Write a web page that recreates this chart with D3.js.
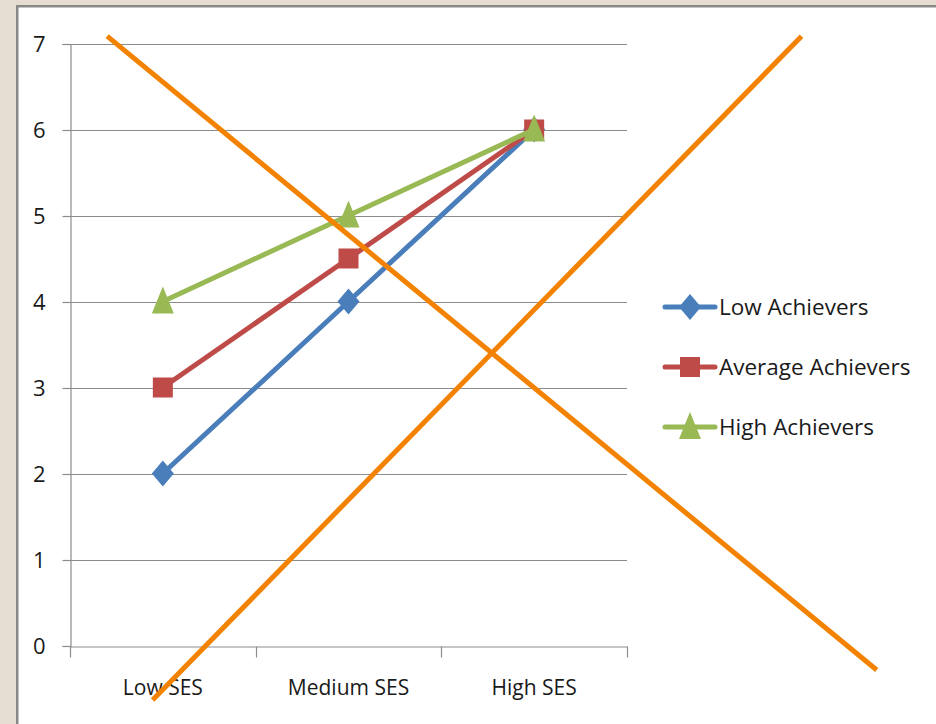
<!DOCTYPE html>
<html>
<head>
<meta charset="utf-8">
<script src="https://cdn.jsdelivr.net/npm/d3@7"></script>
<style>
  html, body { margin: 0; padding: 0; background: #e5ddd2; }
  svg { display: block; }
  text { font-family: "Open Sans", "DejaVu Sans Condensed", sans-serif; fill: #1a1a1a; }
</style>
</head>
<body>
<svg id="chart" width="936" height="724"></svg>
<script>
// Categories along the x axis
const categories = ["Low SES", "Medium SES", "High SES"];

// Series values, one per category
const lowAchievers     = [2, 4, 6];
const averageAchievers = [3, 4.5, 6];
const highAchievers    = [4, 5, 6];

const seriesNames = ["Low Achievers", "Average Achievers", "High Achievers"];
const yTicks = [0, 1, 2, 3, 4, 5, 6, 7];

// Crossing strokes over the chart, expressed as [categoryIndex, value] endpoints
const crossA = [[-0.30, 7.085], [3.845, -0.285]];
const crossB = [[-0.055, -0.635], [3.44, 7.085]];

const series = [
  { name: seriesNames[0], values: lowAchievers,     color: "#4a7ebb", symbol: "diamond" },
  { name: seriesNames[1], values: averageAchievers, color: "#be4b48", symbol: "square" },
  { name: seriesNames[2], values: highAchievers,    color: "#98b954", symbol: "triangle" }
];

const svg = d3.select("#chart");

// White chart area with grey frame
svg.append("rect").attr("x", 16).attr("y", 5).attr("width", 940).attr("height", 740)
  .attr("fill", "#888");
svg.append("rect").attr("x", 18.5).attr("y", 7.5).attr("width", 940).attr("height", 740)
  .attr("fill", "#ffffff");

const plot = { left: 70, right: 627, top: 43.5, bottom: 645.5 };

const x = d3.scaleBand().domain(categories).range([plot.left, plot.right]).paddingInner(0).paddingOuter(0);
const xIdx = d3.scaleLinear().domain([-0.5, categories.length - 0.5]).range([plot.left, plot.right]);
const y = d3.scaleLinear().domain([0, 7]).range([plot.bottom, plot.top]);

// Horizontal gridlines
svg.append("g").selectAll("line").data(yTicks.filter(d => d > 0)).join("line")
  .attr("x1", plot.left).attr("x2", plot.right)
  .attr("y1", d => Math.round(y(d)) + 0.5).attr("y2", d => Math.round(y(d)) + 0.5)
  .attr("stroke", "#8c8c8c").attr("stroke-width", 1.2);

// Y axis
const yAxis = d3.axisLeft(y).tickValues(yTicks).tickFormat(d3.format("d")).tickSize(8).tickPadding(17);
const gy = svg.append("g").attr("transform", `translate(${plot.left + 0.5},0.5)`).call(yAxis);
gy.select(".domain").attr("stroke", "#8c8c8c").attr("stroke-width", 1.2);
gy.selectAll(".tick line").attr("stroke", "#8c8c8c").attr("stroke-width", 1.2);
gy.selectAll(".tick text").attr("font-size", 22).attr("fill", "#1a1a1a")
  .attr("font-family", "'Open Sans', sans-serif");

// X axis
const xAxis = d3.axisBottom(x).tickSize(0).tickPadding(34);
const gx = svg.append("g").attr("transform", `translate(0,${Math.round(plot.bottom) + 0.5})`).call(xAxis);
gx.select(".domain").attr("stroke", "#8c8c8c").attr("stroke-width", 1.2);
gx.selectAll(".tick text").attr("font-size", 21).attr("fill", "#1a1a1a")
  .attr("font-family", "'Open Sans', sans-serif");
// Boundary ticks between categories
const bounds = d3.range(categories.length + 1);
gx.append("g").selectAll("line").data(bounds).join("line")
  .attr("x1", d => Math.round(xIdx(d - 0.5)) + 0.5).attr("x2", d => Math.round(xIdx(d - 0.5)) + 0.5)
  .attr("y1", 0).attr("y2", 11)
  .attr("stroke", "#8c8c8c").attr("stroke-width", 1.2);

// Marker paths
function markerPath(kind) {
  if (kind === "diamond") return "M0,-13 L11,0 L0,13 L-11,0 Z";
  if (kind === "square") return "M-10,-10 H10 V10 H-10 Z";
  return "M0,-15 L11,12 L-11,12 Z";
}

const line = d3.line().x((d, i) => x(categories[i]) + x.bandwidth() / 2).y(d => y(d));

series.forEach(s => {
  const g = svg.append("g");
  g.append("path").attr("d", line(s.values)).attr("fill", "none")
    .attr("stroke", s.color).attr("stroke-width", 5).attr("stroke-linejoin", "round");
  g.selectAll("path.mk").data(s.values).join("path").attr("class", "mk")
    .attr("transform", (d, i) => `translate(${x(categories[i]) + x.bandwidth() / 2},${y(d)})`)
    .attr("d", markerPath(s.symbol)).attr("fill", s.color);
});

// Legend
const legend = svg.append("g").attr("transform", "translate(665,307)");
series.forEach((s, i) => {
  const row = legend.append("g").attr("transform", `translate(0,${i * 60})`);
  row.append("line").attr("x1", 0).attr("x2", 50).attr("y1", 0).attr("y2", 0)
    .attr("stroke", s.color).attr("stroke-width", 5).attr("stroke-linecap", "round");
  row.append("path").attr("transform", "translate(25,0)").attr("d", markerPath(s.symbol)).attr("fill", s.color);
  row.append("text").attr("x", 54).attr("y", 0).attr("dy", "0.35em").attr("font-size", 22.5).text(s.name);
});

// Orange crossing strokes
const crossLine = d3.line().x(d => xIdx(d[0])).y(d => y(d[1]));
[crossA, crossB].forEach(c => {
  svg.append("path").attr("d", crossLine(c)).attr("fill", "none")
    .attr("stroke", "#f28200").attr("stroke-width", 5);
});
</script>
</body>
</html>
